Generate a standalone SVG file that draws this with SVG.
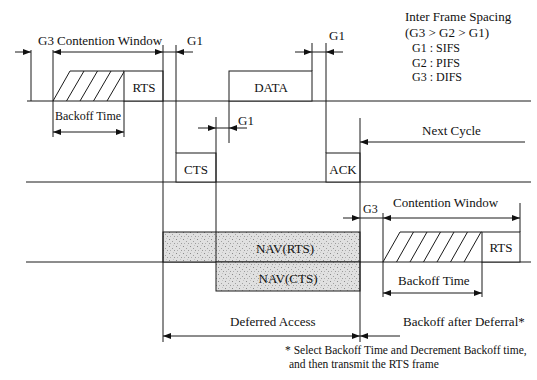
<svg xmlns="http://www.w3.org/2000/svg" width="537" height="380" viewBox="0 0 537 380">
<defs>
<marker id="ah" viewBox="0 0 8 6" markerWidth="8" markerHeight="6" refX="8" refY="3" orient="auto-start-reverse" markerUnits="userSpaceOnUse">
<path d="M0,0 L8,3 L0,6 z" fill="#111"/>
</marker>
<pattern id="stip" width="7" height="7" patternUnits="userSpaceOnUse">
<rect width="7" height="7" fill="#e0e0e0"/>
<rect x="1" y="1" width="1" height="1" fill="#8a8a8a"/>
<rect x="4" y="3" width="1" height="1" fill="#a0a0a0"/>
<rect x="2" y="5" width="1" height="1" fill="#b0b0b0"/>
<rect x="5" y="0" width="1" height="1" fill="#c4c4c4"/>
<rect x="6" y="5" width="1" height="1" fill="#9a9a9a"/>
</pattern>
<style>
.ln{stroke:#1a1a1a;stroke-width:1;fill:none}
.ar{stroke:#1a1a1a;stroke-width:1;fill:none;marker-end:url(#ah)}
.ar2{stroke:#1a1a1a;stroke-width:1;fill:none;marker-start:url(#ah);marker-end:url(#ah)}
.bx{stroke:#1a1a1a;stroke-width:1;fill:#fff}
.nav{stroke:#1a1a1a;stroke-width:1;fill:url(#stip)}
text{font-family:"Liberation Serif","Times New Roman",serif;font-size:13px;fill:#111}
.c{text-anchor:middle}
.sm{font-size:11.5px}
.lg{font-size:12px}
</style>
</defs>

<g id="timelines">
<line class="ln" x1="27" y1="101" x2="531" y2="101"/>
<line class="ln" x1="26" y1="182" x2="531" y2="182"/>
<line class="ln" x1="26" y1="262" x2="531" y2="262"/>
</g>

<g id="backoff-1">
<path class="ln" d="M53,101 L70,71 L124,71"/>
<path class="ln" d="M66.5,101 L84,71 M80,101 L97.5,71 M93.5,101 L111,71 M107,101 L124.5,71"/>
</g>
<g id="rts-1">
<rect class="bx" x="124" y="71" width="39" height="30"/>
<text class="c" x="144" y="92">RTS</text>
</g>
<g id="data">
<rect class="bx" x="229" y="71" width="83" height="30"/>
<text class="c" x="271" y="92">DATA</text>
</g>
<g id="cts">
<rect class="bx" x="176" y="153" width="40" height="29"/>
<text class="c" x="196" y="174">CTS</text>
</g>
<g id="ack">
<rect class="bx" x="326" y="153" width="34" height="29"/>
<text class="c" x="343" y="174">ACK</text>
</g>
<g id="nav-rts">
<rect class="nav" x="163" y="232" width="197" height="30"/>
<text class="c" x="285" y="253">NAV(RTS)</text>
</g>
<g id="nav-cts">
<rect class="nav" x="216" y="262" width="144" height="29"/>
<text class="c" x="288" y="283">NAV(CTS)</text>
</g>
<g id="backoff-2">
<path class="ln" d="M383,262 L400,232 L482,232"/>
<path class="ln" d="M396.5,262 L413.5,232 M410,262 L427,232 M423.5,262 L440.5,232 M437,262 L454,232 M450.5,262 L467.5,232 M464,262 L481,232"/>
</g>
<g id="rts-2">
<rect class="bx" x="482" y="232" width="38" height="30"/>
<text class="c" x="501" y="252">RTS</text>
</g>

<g id="connectors">
<line class="ln" x1="31" y1="50" x2="31" y2="101"/>
<line class="ln" x1="53" y1="50" x2="53" y2="137"/>
<line class="ln" x1="124" y1="101" x2="124" y2="137"/>
<line class="ln" x1="163" y1="45" x2="163" y2="342"/>
<line class="ln" x1="176" y1="45" x2="176" y2="153"/>
<line class="ln" x1="216" y1="117" x2="216" y2="262"/>
<line class="ln" x1="229" y1="101" x2="229" y2="143"/>
<line class="ln" x1="312" y1="43" x2="312" y2="71"/>
<line class="ln" x1="326" y1="43" x2="326" y2="153"/>
<line class="ln" x1="360" y1="118" x2="360" y2="342"/>
<line class="ln" x1="383" y1="213" x2="383" y2="297"/>
<line class="ln" x1="482" y1="262" x2="482" y2="297"/>
<line class="ln" x1="520" y1="203" x2="520" y2="232"/>

<line class="ar" x1="15" y1="52" x2="31" y2="52"/>
<line class="ar2" x1="53" y1="52" x2="163" y2="52"/>
<line class="ln" x1="163" y1="52" x2="176" y2="52"/>
<line class="ar" x1="193" y1="52" x2="176" y2="52"/>
<line class="ar2" x1="53" y1="132" x2="124" y2="132"/>

<line class="ar" x1="295" y1="52" x2="312" y2="52"/>
<line class="ln" x1="312" y1="52" x2="326" y2="52"/>
<line class="ar" x1="343" y1="52" x2="326" y2="52"/>

<line class="ar" x1="198" y1="128" x2="216" y2="128"/>
<line class="ln" x1="216" y1="128" x2="229" y2="128"/>
<line class="ar" x1="247" y1="128" x2="229" y2="128"/>

<line class="ar" x1="525" y1="142" x2="360" y2="142"/>

<line class="ar" x1="343" y1="218" x2="360" y2="218"/>
<line class="ln" x1="360" y1="218" x2="383" y2="218"/>
<line class="ar2" x1="383" y1="218" x2="520" y2="218"/>
<line class="ar2" x1="383" y1="293" x2="482" y2="293"/>

<line class="ar2" x1="163" y1="336" x2="360" y2="336"/>
<line class="ar" x1="400" y1="336" x2="360" y2="336"/>
</g>

<g id="labels">
<text x="38" y="45">G3</text>
<text x="57" y="45">Contention Window</text>
<text x="187" y="45">G1</text>
<text x="55" y="120" style="font-size:12px">Backoff Time</text>
<text x="329" y="40">G1</text>
<text x="238" y="125">G1</text>
<text x="422" y="135">Next Cycle</text>
<text x="363" y="213" style="font-size:12px">G3</text>
<text x="393" y="207">Contention Window</text>
<text x="398" y="285">Backoff Time</text>
<text x="230" y="326">Deferred Access</text>
<text x="403" y="326">Backoff after Deferral*</text>
<text class="sm" x="285" y="354">* Select Backoff Time and Decrement Backoff time,</text>
<text class="sm" x="289" y="368">and then transmit the RTS frame</text>
</g>

<g id="legend">
<text x="405" y="21">Inter Frame Spacing</text>
<text x="405" y="37">(G3 &gt; G2 &gt; G1)</text>
<text class="lg" x="412" y="52">G1 : SIFS</text>
<text class="lg" x="412" y="66.5">G2 : PIFS</text>
<text class="lg" x="412" y="81">G3 : DIFS</text>
</g>
</svg>
